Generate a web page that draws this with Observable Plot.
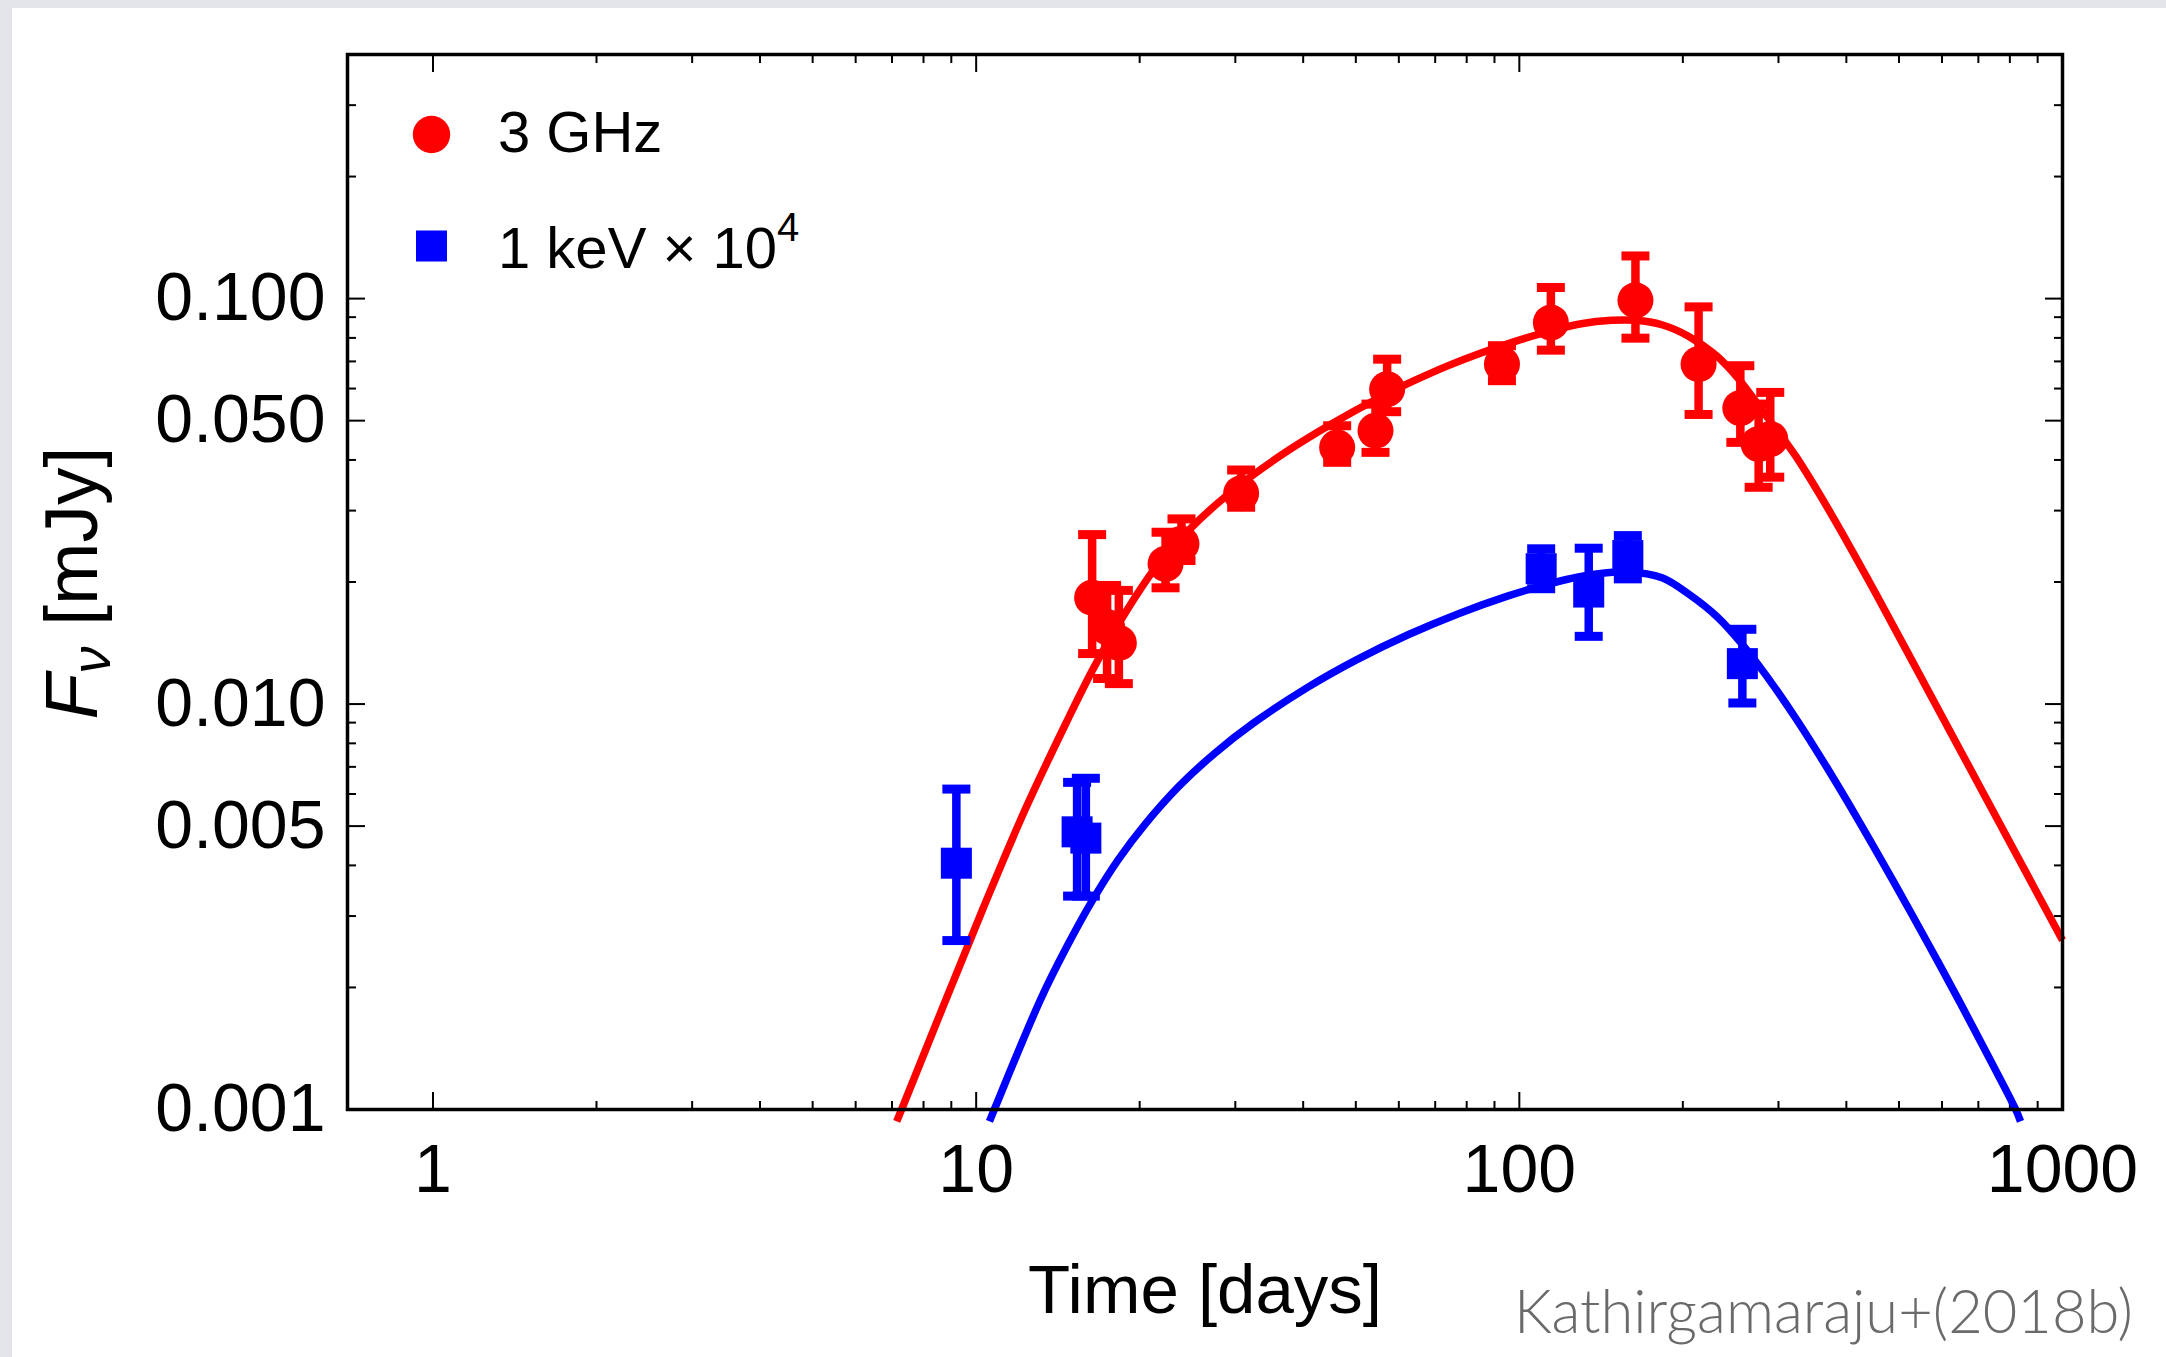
<!DOCTYPE html>
<html>
<head>
<meta charset="utf-8">
<script src="https://cdn.jsdelivr.net/npm/d3@7"></script>
<script src="https://cdn.jsdelivr.net/npm/@observablehq/plot@0.6"></script>
<style>
html, body { margin: 0; padding: 0; background: #ffffff; overflow: hidden; }
#wrap { position: relative; width: 2166px; height: 1357px; }
#wrap svg { position: absolute; left: 0; top: 0; }
.band { position: absolute; background: #e3e5e9; z-index: 5; }
</style>
</head>
<body>
<div id="wrap">
  <div class="band" style="left:0;top:0;width:2166px;height:8px;"></div>
  <div class="band" style="left:0;top:0;width:12px;height:1357px;"></div>
</div>
<script>
// ---------- data ----------
// 3 GHz radio detections: time [days], flux [mJy], lower / upper error ends
const radioT  = [16.35, 17.42, 18.31, 22.32, 23.88, 30.75, 46.2, 54.35, 57.1, 92.9, 114.3, 163.6, 213.8, 255.2, 275.8, 289.7];
const radioF  = [0.01829, 0.01548, 0.01415, 0.02218, 0.02484, 0.03309, 0.04296, 0.04722, 0.0598, 0.0689, 0.08726, 0.09906, 0.0689, 0.0537, 0.04379, 0.04505];
const radioLo = [0.01332, 0.01156, 0.01123, 0.01935, 0.0226, 0.03058, 0.03947, 0.04176, 0.05261, 0.06274, 0.07462, 0.07988, 0.05179, 0.0442, 0.03425, 0.03627];
const radioHi = [0.02618, 0.01961, 0.01907, 0.02653, 0.02862, 0.03778, 0.04857, 0.05493, 0.07089, 0.07652, 0.1065, 0.1274, 0.09541, 0.06831, 0.05493, 0.0587];

// 1 keV x 10^4 X-ray points
const xrayT  = [9.195, 15.34, 15.92, 109.7, 134.2, 158.4, 257.4];
const xrayF  = [0.00405, 0.00484, 0.00467, 0.02157, 0.01889, 0.02324, 0.01258];
const xrayLo = [0.00261, 0.00336, 0.00336, 0.01925, 0.01469, 0.02036, 0.01006];
const xrayHi = [0.00617, 0.00641, 0.00656, 0.02415, 0.02423, 0.02603, 0.01529];

// model curves (sampled along the drawn lines)
const radioModelT = [7.14, 7.29, 8.728, 10.34, 12.25, 14.7, 16.43, 18.58, 21.25, 24.3, 29.14, 36.32, 45.0, 55.49, 64.01, 73.99, 84.99, 97.97, 113.0, 130.0, 148, 164, 183, 204, 230, 253, 283, 323, 374.2, 438.3, 517.9, 648.9, 813.5, 1000];
const radioModelF = [0.000935, 0.001, 0.00182, 0.003175, 0.005415, 0.009083, 0.01223, 0.01632, 0.02143, 0.02637, 0.03296, 0.04098, 0.04898, 0.05715, 0.06274, 0.06835, 0.07345, 0.07835, 0.08286, 0.08671, 0.0884, 0.0884, 0.0862, 0.081, 0.0725, 0.0635, 0.052, 0.0408, 0.02959, 0.02032, 0.01345, 0.007674, 0.004373, 0.002615];

const xrayModelT = [10.58, 10.8, 13.14, 14.69, 16.33, 18.24, 20.51, 23.61, 27.49, 32.38, 40.69, 50.23, 62.39, 77.46, 95.08, 109.4, 132.0, 158.2, 183.2, 205.9, 231.5, 257.3, 284.2, 323.2, 367.7, 423.1, 489.8, 563.7, 648.9, 733.8, 820, 837];
const xrayModelF = [0.000935, 0.001, 0.001868, 0.002522, 0.00326, 0.004121, 0.005071, 0.006264, 0.007561, 0.008972, 0.01098, 0.01287, 0.01482, 0.01673, 0.01846, 0.01953, 0.02072, 0.02118, 0.0205, 0.0186, 0.0164, 0.01404, 0.0118, 0.0092, 0.007002, 0.005109, 0.003627, 0.002586, 0.001827, 0.001336, 0.001, 0.000935];

// axis ticks
const xMajorTicks = [1, 10, 100, 1000];
const xMinorTicks = [2, 3, 4, 5, 6, 7, 8, 9, 20, 30, 40, 50, 60, 70, 80, 90, 200, 300, 400, 500, 600, 700, 800, 900];
const yMajorTicks = [0.001, 0.005, 0.01, 0.05, 0.1];
const yMinorTicks = [0.002, 0.003, 0.004, 0.006, 0.007, 0.008, 0.009, 0.02, 0.03, 0.04, 0.06, 0.07, 0.08, 0.09, 0.2, 0.3];

const seriesNames = ["3 GHz", "1 keV × 10"];
const xTitle = "Time [days]";
const credit = "Kathirgamaraju+(2018b)";

// ---------- build tables ----------
const RED = "#ff0000", BLUE = "#0000ff";
const radio = radioT.map((t, i) => ({t, f: radioF[i], lo: radioLo[i], hi: radioHi[i]}));
const xray = xrayT.map((t, i) => ({t, f: xrayF[i], lo: xrayLo[i], hi: xrayHi[i]}));
const radioModel = radioModelT.map((t, i) => ({t, f: radioModelF[i]}));
const xrayModel = xrayModelT.map((t, i) => ({t, f: xrayModelF[i]}));

const capShape = {
  draw(context) {
    context.moveTo(-14, -4.5); context.lineTo(14, -4.5);
    context.lineTo(14, 4.5); context.lineTo(-14, 4.5); context.closePath();
  }
};

const FONT = "'Liberation Sans', Arial, Helvetica, sans-serif";
const fmtY = d3.format(".3f");
const blank = () => "";

const tickOpts = {strokeWidth: 2, fontFamily: FONT};

const svg = Plot.plot({
  width: 2166,
  height: 1357,
  marginLeft: 347,
  marginRight: 104,
  marginTop: 54,
  marginBottom: 248,
  style: {background: "transparent", color: "black", fontFamily: FONT},
  x: {type: "log", domain: [0.696, 1000], label: null},
  y: {type: "log", domain: [0.001, 0.4], label: null},
  marks: [
    // ticks on all four sides, pointing inward
    Plot.axisX(xMinorTicks, {anchor: "bottom", tickSize: -8, tickFormat: blank, ...tickOpts}),
    Plot.axisX(xMajorTicks, {anchor: "bottom", tickSize: -17, tickPadding: 51, tickFormat: d => String(d), fontSize: 68, ...tickOpts}),
    Plot.axisX(xMinorTicks, {anchor: "top", tickSize: -8, tickFormat: blank, ...tickOpts}),
    Plot.axisX(xMajorTicks, {anchor: "top", tickSize: -17, tickFormat: blank, ...tickOpts}),
    Plot.axisY(yMinorTicks, {anchor: "left", tickSize: -9, tickFormat: blank, ...tickOpts}),
    Plot.axisY(yMajorTicks, {anchor: "left", tickSize: -18, tickPadding: 40, tickFormat: fmtY, fontSize: 68, ...tickOpts}),
    Plot.axisY(yMinorTicks, {anchor: "right", tickSize: -9, tickFormat: blank, ...tickOpts}),
    Plot.axisY(yMajorTicks, {anchor: "right", tickSize: -18, tickFormat: blank, ...tickOpts}),

    // model curves
    Plot.line(radioModel, {x: "t", y: "f", stroke: RED, strokeWidth: 7.5, curve: "catmull-rom", strokeLinecap: "butt"}),
    Plot.line(xrayModel, {x: "t", y: "f", stroke: BLUE, strokeWidth: 7.5, curve: "catmull-rom", strokeLinecap: "butt"}),

    // frame
    Plot.frame({stroke: "black", strokeWidth: 3.5}),

    // error bars
    Plot.ruleX(radio, {x: "t", y1: "lo", y2: "hi", stroke: RED, strokeWidth: 8.5}),
    Plot.dot(radio, {x: "t", y: "hi", symbol: capShape, fill: RED, stroke: "none"}),
    Plot.dot(radio, {x: "t", y: "lo", symbol: capShape, fill: RED, stroke: "none"}),
    Plot.ruleX(xray, {x: "t", y1: "lo", y2: "hi", stroke: BLUE, strokeWidth: 8.5}),
    Plot.dot(xray, {x: "t", y: "hi", symbol: capShape, fill: BLUE, stroke: "none"}),
    Plot.dot(xray, {x: "t", y: "lo", symbol: capShape, fill: BLUE, stroke: "none"}),

    // points
    Plot.dot(radio, {x: "t", y: "f", r: 18, fill: RED, stroke: "none"}),
    Plot.dot(xray, {x: "t", y: "f", symbol: "square", r: 17.5, fill: BLUE, stroke: "none"}),

    // legend markers
    Plot.dot([seriesNames[0]], {frameAnchor: "top-left", dx: 84, dy: 80, r: 18.7, fill: RED, stroke: "none"}),
    Plot.dot([seriesNames[1]], {frameAnchor: "top-left", dx: 84, dy: 191.5, symbol: "square", r: 17.5, fill: BLUE, stroke: "none"}),

    // x title
    Plot.text([xTitle], {frameAnchor: "bottom", dy: 203, lineAnchor: "bottom", fontSize: 69, fill: "black", fontFamily: FONT}),
  ]
});

document.getElementById("wrap").appendChild(svg);

const s = d3.select(svg);

// legend labels
s.append("text")
  .attr("x", 498).attr("y", 151.7).attr("text-anchor", "start")
  .attr("font-family", FONT).attr("font-size", 58).attr("fill", "black")
  .text(seriesNames[0]);
const t2 = s.append("text")
  .attr("x", 498).attr("y", 268).attr("text-anchor", "start")
  .attr("font-family", FONT).attr("font-size", 58).attr("fill", "black");
t2.append("tspan").text(seriesNames[1]);
t2.append("tspan").attr("dy", -27).attr("font-size", 40).text("4");

// y title: F_ν [mJy]
const yt = s.append("text")
  .attr("transform", "translate(97,583) rotate(-90)")
  .attr("text-anchor", "middle")
  .attr("font-family", FONT).attr("font-size", 75).attr("fill", "black");
yt.append("tspan").attr("font-style", "italic").text("F");
yt.append("tspan").attr("font-style", "italic").attr("font-size", 54).attr("dy", 13).text("ν");
yt.append("tspan").attr("dy", -13).text(" [mJy]");

// credit
s.append("text")
  .attr("x", 1514).attr("y", 1333).attr("text-anchor", "start")
  .attr("font-family", "Lato, 'Open Sans', sans-serif").attr("font-weight", 300)
  .attr("font-size", 62).attr("fill", "#6a6a6a")
  .attr("textLength", 619).attr("lengthAdjust", "spacingAndGlyphs")
  .text(credit);
</script>
</body>
</html>
